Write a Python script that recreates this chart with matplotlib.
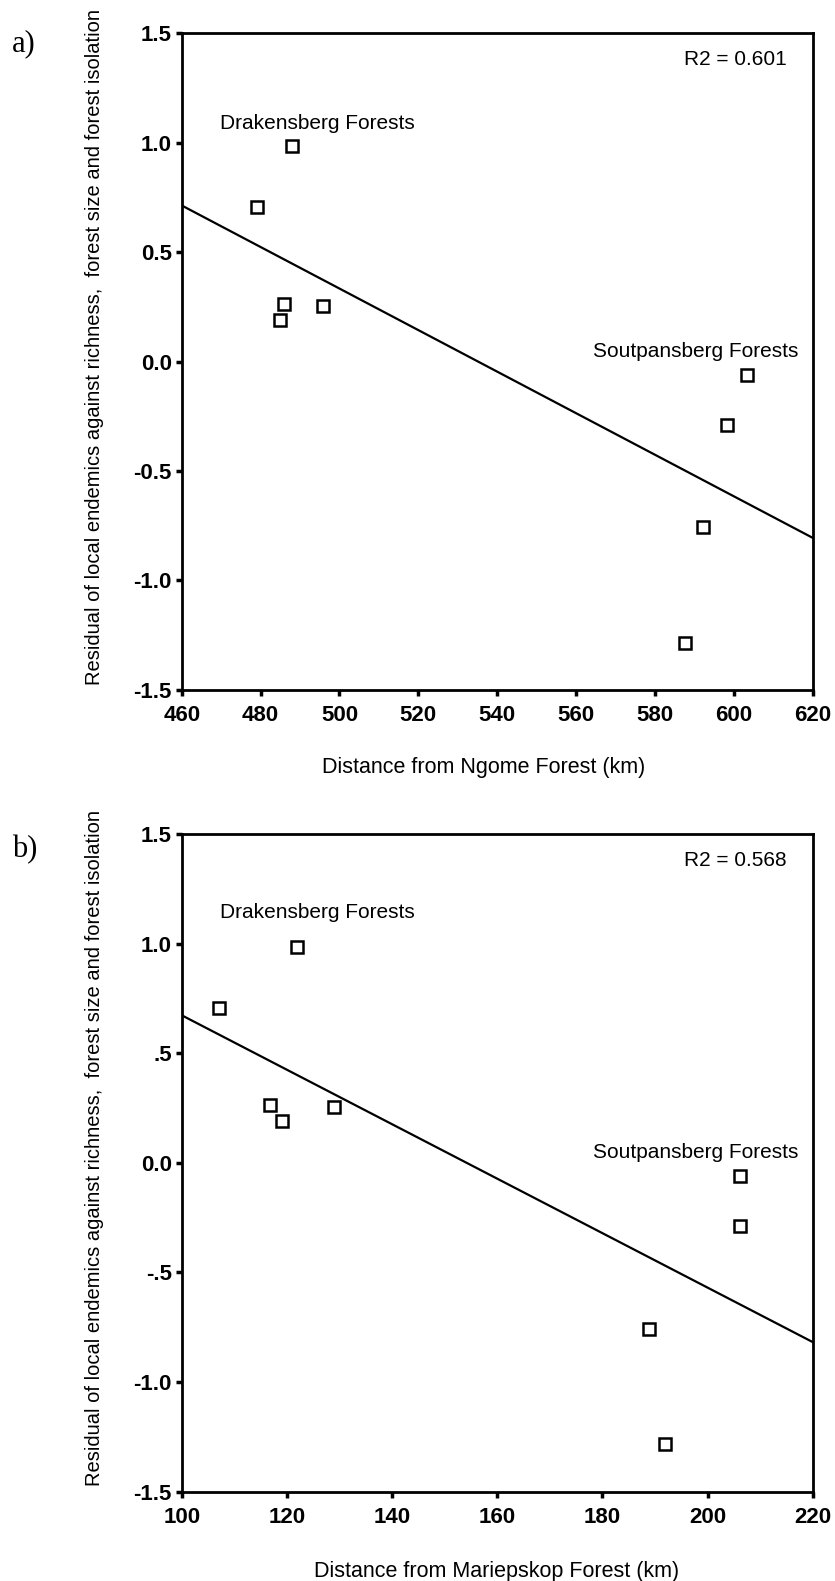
import numpy as np
import matplotlib
matplotlib.use('Agg')
import matplotlib.pyplot as plt

plt.rcParams['font.family'] = ['Liberation Sans', 'DejaVu Sans']

# a) distance from Ngome Forest (km) vs residual
ngome_dist = [487.9, 479.0, 486.0, 484.9, 495.9, 603.3, 598.3, 592.3, 587.5]
# b) distance from Mariepskop Forest (km) vs residual
mariep_dist = [122.0, 107.0, 116.7, 119.0, 129.0, 206.1, 206.1, 188.9, 191.9]
residual = [0.985, 0.706, 0.264, 0.191, 0.255, -0.061, -0.288, -0.756, -1.284]

r2_a = '0.601'
r2_b = '0.568'

yticks = [1.5, 1.0, 0.5, 0.0, -0.5, -1.0, -1.5]
yticklabels_a = ['1.5', '1.0', '0.5', '0.0', '-0.5', '-1.0', '-1.5']
yticklabels_b = ['1.5', '1.0', '.5', '0.0', '-.5', '-1.0', '-1.5']
xticks_a = [460, 480, 500, 520, 540, 560, 580, 600, 620]
xticks_b = [100, 120, 140, 160, 180, 200, 220]

ylabel = 'Residual of local endemics against richness,  forest size and forest isolation'


def draw_panel(ax, x, y, xticks, yticklabels, xlabel, r2, xlab_pos):
    """Scatter of residuals with the OLS line across the x-range."""
    ax.plot(x, y, 's', ms=8.5, mfc='white', mec='black', mew=1.8, zorder=3)

    # regression line over the full axis range
    slope, icpt = np.polyfit(x, y, 1)
    xx = np.array([xticks[0], xticks[-1]])
    ax.plot(xx, icpt + slope * xx, color='black', lw=1.6, zorder=2)

    ax.set_xlim(xticks[0], xticks[-1])
    ax.set_ylim(-1.5, 1.5)
    ax.set_xticks(xticks)
    ax.set_yticks(yticks)
    ax.set_yticklabels(yticklabels)

    for s in ax.spines.values():
        s.set_linewidth(2.0)
    ax.tick_params(direction='out', length=4, width=2.5, pad=3, labelsize=16)
    ax.tick_params(axis='x', pad=7)
    for lab in ax.get_xticklabels() + ax.get_yticklabels():
        lab.set_fontweight('bold')

    ax.set_xlabel(xlabel, fontsize=15.5)
    ax.xaxis.set_label_coords(xlab_pos[0], xlab_pos[1])
    ax.set_ylabel(ylabel, fontsize=14.5)
    ax.yaxis.set_label_coords(-0.123, 0.522)

    ax.text(0.959, 0.951, 'R2 = ' + r2, transform=ax.transAxes,
            ha='right', va='baseline', fontsize=15)


fig = plt.figure(figsize=(8.35, 15.81), dpi=100)
ax_a = fig.add_axes([0.2176, 0.5636, 0.7557, 0.4154])
ax_b = fig.add_axes([0.2176, 0.0565, 0.7557, 0.4160])

draw_panel(ax_a, ngome_dist, residual, xticks_a, yticklabels_a,
           'Distance from Ngome Forest (km)', r2_a, (0.479, -0.102))
draw_panel(ax_b, mariep_dist, residual, xticks_b, yticklabels_b,
           'Distance from Mariepskop Forest (km)', r2_b, (0.499, -0.105))

# group labels
ax_a.text(0.0607, 0.854, 'Drakensberg Forests', transform=ax_a.transAxes, fontsize=15, va='baseline')
ax_a.text(0.977, 0.507, 'Soutpansberg Forests', transform=ax_a.transAxes, fontsize=15, va='baseline', ha='right')
ax_b.text(0.0607, 0.872, 'Drakensberg Forests', transform=ax_b.transAxes, fontsize=15, va='baseline')
ax_b.text(0.977, 0.507, 'Soutpansberg Forests', transform=ax_b.transAxes, fontsize=15, va='baseline', ha='right')

# panel letters
fig.text(0.0287, 0.9725, 'a)', family='Liberation Serif', fontsize=22, ha='center', va='center')
fig.text(0.030, 0.4624, 'b)', family='Liberation Serif', fontsize=22, ha='center', va='center')

fig.savefig('out.png', dpi=100)
